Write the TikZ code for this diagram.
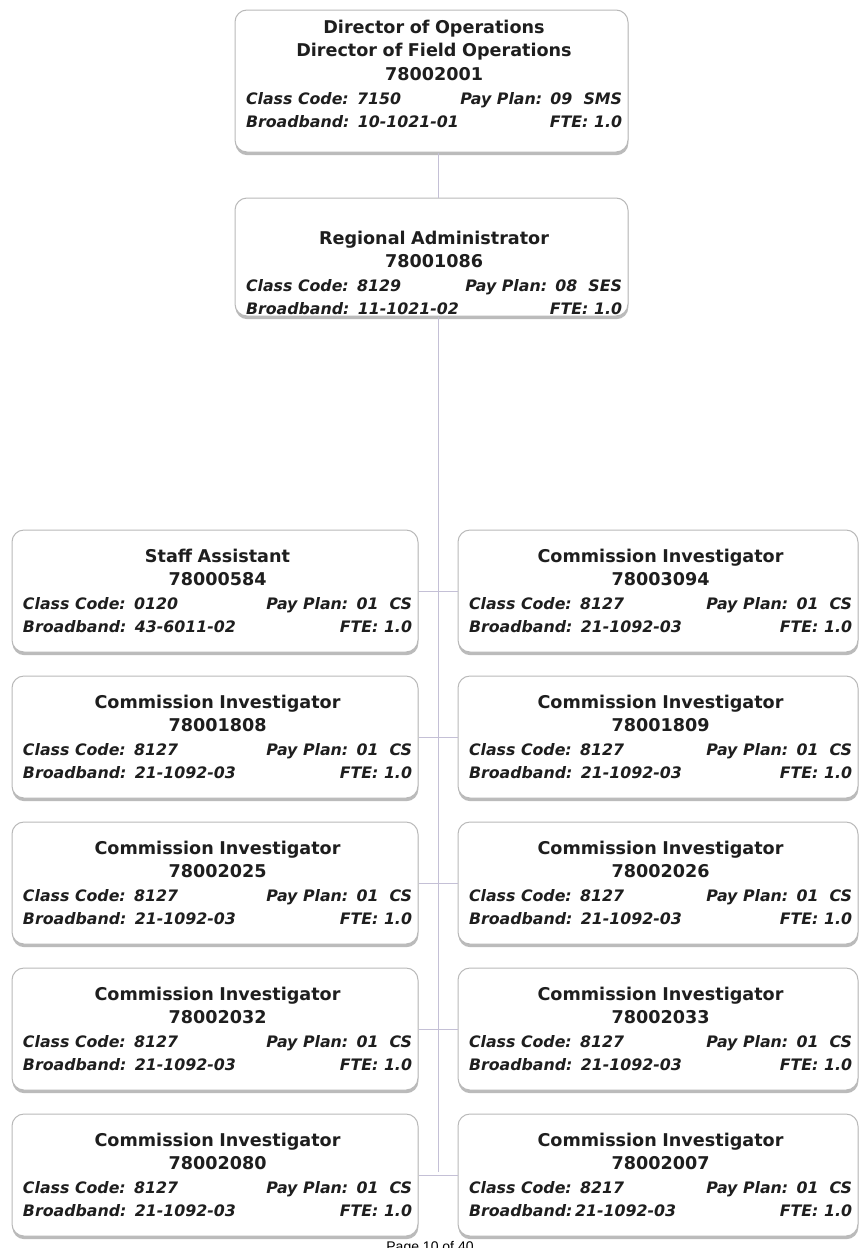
\documentclass[tikz,border=0pt]{standalone}
\usepackage{fontspec}
\setmainfont{DejaVu Sans}[BoldFont={DejaVu Sans Bold},ItalicFont={DejaVu Sans Oblique},BoldItalicFont={DejaVu Sans Bold Oblique}]
\newfontfamily\pagefont{Liberation Sans}
\usetikzlibrary{shadows}
\definecolor{conncol}{RGB}{196,192,214}
\definecolor{boxline}{RGB}{185,185,185}
\definecolor{shadowcol}{RGB}{165,165,165}
\definecolor{inkcol}{RGB}{30,30,30}
\newcommand\ttl[1]{{\fontsize{8.8}{11.8}\selectfont\bfseries #1}}
\newcommand\prow[2]{\makebox[\linewidth]{\fontsize{7.9}{11.8}\selectfont\bfseries\itshape #1\hfill #2}}
\newcommand\poscontent[6]{\ttl{#1}\\ \ttl{#2}\\ \prow{Class Code: #3}{Pay Plan: #4}\\ \prow{Broadband: #5}{FTE: #6}}
\newcommand\orgbox[7]{%
  \pgfmathsetmacro\bw{((#4)-(#2))*0.5}%
  \pgfmathsetmacro\bh{((#5)-(#3))*0.5}%
  \pgfmathsetmacro\tw{((#4)-(#2)-17)*0.5}%
  \node[pbox, minimum width=\bw pt, minimum height=\bh pt] (#1) at ({((#2)+(#4))/2},{((#3)+(#5))/2}) {};
  \node[ptext, text width=\tw pt] (#1t) at ({((#2)+(#4))/2+2.5},{#6}) {#7};
}
\newcommand\rowbox[5]{\orgbox{#1}{#2}{#4-26}{#3}{#4+96}{#4+35}{#5}}
\tikzset{
  pbox/.style={draw=boxline, line width=0.5pt, rounded corners=6pt, fill=white, inner sep=0pt,
    drop shadow={shadow xshift=0.2pt, shadow yshift=-1.6pt, fill=shadowcol, opacity=0.75}},
  ptext/.style={inner sep=0pt, align=center, text=inkcol, font=\fontsize{8.3}{11.8}\selectfont},
  conn/.style={draw=conncol, line width=0.5pt}
}
\begin{document}
\begin{tikzpicture}[x=0.5pt,y=-0.5pt]
\useasboundingbox[fill=white] (0,0) rectangle (864,1248);
\coordinate (spineend) at (438,1172);
% top boxes
\orgbox{dir}{235}{10}{628}{152}{74}{\ttl{Director of Operations}\\ \ttl{Director of Field Operations}\\ \ttl{78002001}\\ \prow{Class Code: 7150}{Pay Plan: 09\ \ SMS}\\ \prow{Broadband: 10-1021-01}{FTE: 1.0}}
\orgbox{reg}{235}{198}{628}{316}{273}{\poscontent{Regional Administrator}{78001086}{8129}{08\ \ SES}{11-1021-02}{1.0}}
% spine
\draw[conn] (dir.south -| spineend) -- (reg.north -| spineend);
\draw[conn] (reg.south -| spineend) -- (spineend);
% rows
\rowbox{l1}{12}{418}{556}{\poscontent{Staff Assistant}{78000584}{0120}{01\ \ CS}{43-6011-02}{1.0}}
\rowbox{r1}{458}{858}{556}{\poscontent{Commission Investigator}{78003094}{8127}{01\ \ CS}{21-1092-03}{1.0}}
\rowbox{l2}{12}{418}{702}{\poscontent{Commission Investigator}{78001808}{8127}{01\ \ CS}{21-1092-03}{1.0}}
\rowbox{r2}{458}{858}{702}{\poscontent{Commission Investigator}{78001809}{8127}{01\ \ CS}{21-1092-03}{1.0}}
\rowbox{l3}{12}{418}{848}{\poscontent{Commission Investigator}{78002025}{8127}{01\ \ CS}{21-1092-03}{1.0}}
\rowbox{r3}{458}{858}{848}{\poscontent{Commission Investigator}{78002026}{8127}{01\ \ CS}{21-1092-03}{1.0}}
\rowbox{l4}{12}{418}{994}{\poscontent{Commission Investigator}{78002032}{8127}{01\ \ CS}{21-1092-03}{1.0}}
\rowbox{r4}{458}{858}{994}{\poscontent{Commission Investigator}{78002033}{8127}{01\ \ CS}{21-1092-03}{1.0}}
\rowbox{l5}{12}{418}{1140}{\poscontent{Commission Investigator}{78002080}{8127}{01\ \ CS}{21-1092-03}{1.0}}
\rowbox{r5}{458}{858}{1140}{\ttl{Commission Investigator}\\ \ttl{78002007}\\ \prow{Class Code: 8217}{Pay Plan: 01\ \ CS}\\ \prow{Broadband:\,21-1092-03}{FTE: 1.0}}
% connectors
\foreach \i in {1,...,5}{\draw[conn] (l\i.east) -- (r\i.west);}
% footer
\node[anchor=base, inner sep=0pt, font=\pagefont\fontsize{7}{8}\selectfont] (pg) at (430,1251) {Page 10 of 40};
\end{tikzpicture}
\end{document}
